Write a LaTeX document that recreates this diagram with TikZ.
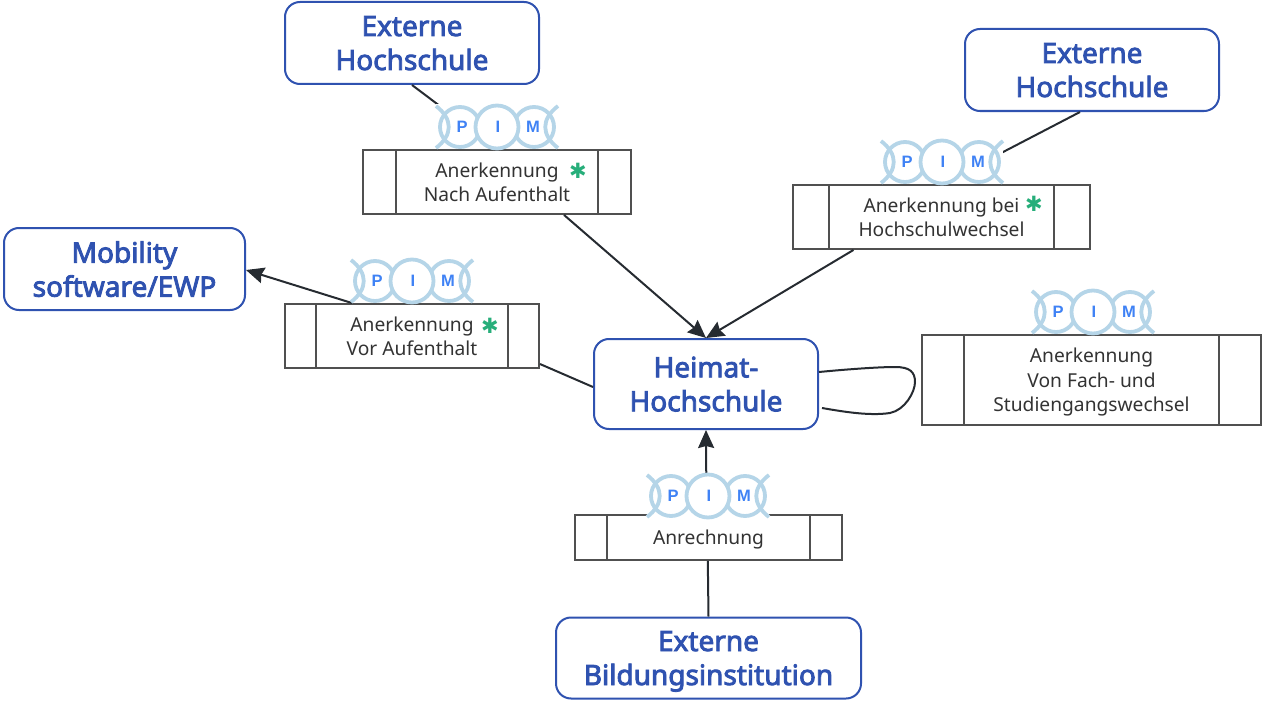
\documentclass[tikz,border=0pt]{standalone}
\usepackage{fontspec}
\setmainfont{Noto Sans}
\newfontfamily\hsfont{Noto Sans}[FakeBold=3]
\newfontfamily\pimfont{Liberation Sans}[BoldFont={Liberation Sans Bold}]
\newfontfamily\symfont{DejaVu Sans}
\usetikzlibrary{arrows.meta}
\definecolor{hsblue}{HTML}{2F52B0}
\definecolor{edgeink}{HTML}{262B31}
\definecolor{procline}{HTML}{505050}
\definecolor{procink}{HTML}{333333}
\definecolor{pimring}{HTML}{B5D5E8}
\definecolor{pimletter}{HTML}{3F82F5}
\definecolor{starcol}{HTML}{27AE7A}
\tikzset{
  hsbox/.style={draw=hsblue,line width=2pt,rounded corners=15pt,fill=white},
  hstext/.style={text=hsblue,align=center,inner sep=0pt,text depth=0pt,
    font=\fontsize{28}{34}\hsfont},
  procbox/.style={draw=procline,line width=1.9pt,fill=white},
  proctext/.style={text=procink,align=center,inner sep=0pt,text depth=0pt,
    font=\fontsize{19.2}{24.5}\selectfont},
  conn/.style={draw=edgeink,line width=2pt},
  arr/.style={conn,-{Stealth[length=18pt,width=16pt,inset=2pt]}},
  ring/.style={draw=pimring,line width=3.8pt},
  pimtext/.style={text=pimletter,font=\fontsize{16.5}{17}\pimfont\bfseries,inner sep=0pt},
  star/.style={text=starcol,font=\fontsize{21}{21}\symfont,inner sep=0pt}
}
% \hsb{name}{cx}{cy}{w}{h}{text}
\newcommand{\hsb}[6]{%
  \node[hsbox,minimum width=#4pt,minimum height=#5pt] (#1) at (#2,#3) {};
  \node[hstext] (#1t) at (#1.center) {#6};
}
% \procb{name}{cx}{cy}{w}{h}{inset}{text}
\newcommand{\procb}[7]{%
  \node[procbox,minimum width=#4pt,minimum height=#5pt] (#1) at (#2,#3) {};
  \draw[procline,line width=1.9pt] ([xshift=#6pt]#1.north west) -- ([xshift=#6pt]#1.south west);
  \draw[procline,line width=1.9pt] ([xshift=-#6pt]#1.north east) -- ([xshift=-#6pt]#1.south east);
  \node[proctext] (#1t) at (#1.center) {#7};
}
% \pimb{name}{cx}{cy}{white-rect bottom}
\newcommand{\pimb}[4]{%
  \begin{scope}[shift={(#2,#3)}]
    \fill[white] (-61,-23) rectangle (61,#4);
    \draw[ring] (-37,0) circle (20);
    \draw[ring] (37,0) circle (20);
    \draw[ring] (-61,-21) .. controls (-44,-8) and (-44,8) .. (-61,21);
    \draw[ring] (61,-21) .. controls (44,-8) and (44,8) .. (61,21);
    \draw[ring,fill=white] (0,0) circle (21.5);
    \node[pimtext] (#1P) at (-35,0) {P};
    \node[pimtext] (#1I) at (1,0) {I};
    \node[pimtext] (#1M) at (36,0) {M};
  \end{scope}
}
\begin{document}
\begin{tikzpicture}[x=1pt,y=-1pt]
\useasboundingbox (0,0) rectangle (1262,701);
% main boxes
\hsb{ext1}{412}{43}{254}{82}{Externe\\Hochschule}
\hsb{ext2}{1092}{70}{254}{82}{Externe\\Hochschule}
\hsb{mob}{124.5}{269}{241}{82}{Mobility\\software/EWP}
\hsb{home}{706}{384}{224}{90}{Heimat-\\Hochschule}
\hsb{extb}{708.5}{658}{305}{81}{Externe\\Bildungsinstitution}
% process boxes
\procb{nach}{497}{182}{268}{64}{34}{Anerkennung\\Nach Aufenthalt}
\procb{wech}{941.5}{217}{297}{64}{37}{Anerkennung bei\\Hochschulwechsel}
\procb{vor}{412}{336}{254}{64}{32}{Anerkennung\\Vor Aufenthalt}
\procb{fach}{1091.5}{380}{339}{90}{43}{Anerkennung\\Von Fach- und\\Studiengangswechsel}
\procb{anr}{708.5}{537.5}{267}{45}{33}{Anrechnung}
% connectors
\draw[conn] (ext1.south) -- (nach.north);
\draw[conn] ([xshift=-12pt]ext2.south) -- (wech.north);
\draw[arr] ([xshift=67pt]nach.south) -- (home.north);
\draw[arr] ([xshift=-88pt]wech.south) -- (home.north);
\draw[arr] ([xshift=-60pt]vor.north) -- ([yshift=-1pt]mob.east);
\draw[conn] ([yshift=-28pt]vor.east) -- ([yshift=-3pt]home.west);
\draw[arr] ([xshift=-2pt]anr.north) -- ([xshift=0pt]home.south);
\draw[conn] (extb.north) -- ([xshift=-0.7pt]anr.south);
\draw[conn] ([yshift=12pt]home.east) .. controls (850,369) and (880,367) .. (895,367)
  .. controls (910,367) and (915,372) .. (915,382) .. controls (915,392) and (905,410) .. (890,413)
  .. controls (870,416) and (845,412) .. ([xshift=3pt,yshift=-24pt]home.east);
% PIM badges
\pimb{a}{497}{127}{21}
\pimb{b}{942}{162}{21}
\pimb{c}{412}{281}{21}
\pimb{d}{1093}{312}{21}
\pimb{e}{708}{496}{20}
% asterisks
\node[star] (s1) at (578,171) {✱};
\node[star] (s2) at (1034,204) {✱};
\node[star] (s3) at (490,326) {✱};
\end{tikzpicture}
\end{document}
